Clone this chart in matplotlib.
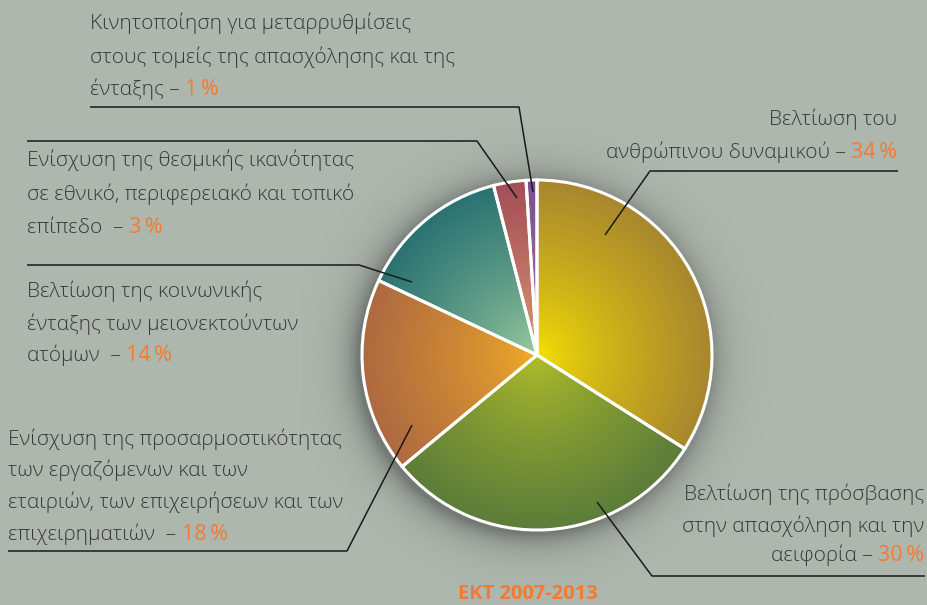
import numpy as np
import matplotlib.pyplot as plt
from matplotlib.colors import to_rgb

# ---- data ----
shares = [34, 30, 18, 14, 3, 1]
inner_colors = ['#f8e400', '#b4c028', '#f4ae26', '#a0d0a0', '#e4a474', '#b080b0']
outer_colors = ['#a8872e', '#5c7d3a', '#ae6a40', '#2a7272', '#a44e58', '#7a4f8e']

# label lines (text part, orange part)
labels = [
    (['Βελτίωση του', 'ανθρώπινου δυναμικού – '], '34\u2009%'),
    (['Βελτίωση της πρόσβασης', 'στην απασχόληση και την', 'αειφορία – '], '30\u2009%'),
    (['Ενίσχυση της προσαρμοστικότητας', 'των εργαζόμενων και των',
      'εταιριών, των επιχειρήσεων και των', 'επιχειρηματιών  – '], '18\u2009%'),
    (['Βελτίωση της κοινωνικής', 'ένταξης των μειονεκτούντων', 'ατόμων  – '], '14\u2009%'),
    (['Ενίσχυση της θεσμικής ικανότητας', 'σε εθνικό, περιφερειακό και τοπικό',
      'επίπεδο  – '], '3\u2009%'),
    (['Κινητοποίηση για μεταρρυθμίσεις', 'στους τομείς της απασχόλησης και της',
      'ένταξης – '], '1\u2009%'),
]
title = 'ΕΚΤ 2007-2013'

BG = '#aeb7ae'
TXT = '#383838'
ORANGE = '#f47a30'
FONT = 'Open Sans'

W, H = 927, 605
cx, cy, R = 537, 355, 175

fig = plt.figure(figsize=(W / 100, H / 100), dpi=100, facecolor=BG)
ax = fig.add_axes([0, 0, 1, 1])
ax.set_facecolor(BG)

# soft shadow round the pie
n = 400
gx = np.linspace(cx - R - 60, cx + R + 60, n)
gy = np.linspace(cy - R - 60, cy + R + 60, n)
XX, YY = np.meshgrid(gx, gy)
d = np.hypot(XX - cx + 4, YY - cy - 4)
alpha = np.where(d > R - 5, 0.34 * np.exp(-np.clip(d - R, 0, None) / 15.0), 0.34)
shadow = np.zeros((n, n, 4))
shadow[..., 3] = alpha
ax.imshow(shadow, extent=(gx[0], gx[-1], gy[-1], gy[0]), origin='upper', zorder=1)

wedges, _ = ax.pie(shares, center=(cx, cy), radius=R, startangle=-90, counterclock=True,
                   wedgeprops=dict(facecolor='none', edgecolor='white', linewidth=2.2))

# radial gradient inside every wedge
gx = np.linspace(cx - R, cx + R, n)
gy = np.linspace(cy - R, cy + R, n)
XX, YY = np.meshgrid(gx, gy)
t = np.clip(np.hypot(XX - cx, YY - cy) / R, 0, 1) ** 0.75
for w, ci, co in zip(wedges, inner_colors, outer_colors):
    ci, co = np.array(to_rgb(ci)), np.array(to_rgb(co))
    img = ci[None, None, :] * (1 - t[..., None]) + co[None, None, :] * t[..., None]
    im = ax.imshow(img, extent=(gx[0], gx[-1], gy[-1], gy[0]), origin='upper', zorder=2)
    im.set_clip_path(w)
    w.set_zorder(3)

ax.set_xlim(0, W)
ax.set_ylim(H, 0)
ax.set_aspect('auto')
ax.axis('off')

fs = 15
kw = dict(fontsize=fs, color=TXT, family=FONT, fontweight='light')
okw = dict(fontsize=fs + 0.5, color=ORANGE, family=FONT)


def left_block(lines, pct, x, baselines):
    for i, (s, yb) in enumerate(zip(lines, baselines)):
        t1 = ax.text(x, yb, s, ha='left', va='baseline', **kw)
        if i == len(lines) - 1:
            ax.annotate(pct, xy=(1, yb), xycoords=(t1, 'data'), ha='left', va='baseline', **okw)


def right_block(lines, pct, x, baselines):
    for i, (s, yb) in enumerate(zip(lines, baselines)):
        if i == len(lines) - 1:
            t2 = ax.text(x, yb, pct, ha='right', va='baseline', **okw)
            ax.annotate(s, xy=(0, yb), xycoords=(t2, 'data'), ha='right', va='baseline', **kw)
        else:
            ax.text(x, yb, s, ha='right', va='baseline', **kw)


right_block(*labels[0], 897, [125, 158])
right_block(*labels[1], 924, [500, 532, 561])
left_block(*labels[2], 8, [445, 476, 508, 540])
left_block(*labels[3], 27, [297, 330, 361])
left_block(*labels[4], 27, [166, 200, 233])
left_block(*labels[5], 90, [29, 63, 95])

# leader lines
lk = dict(color='#1a1a1a', lw=1.1, zorder=4, solid_capstyle='butt')
ax.plot([898, 650, 605], [171, 171, 235], **lk)
ax.plot([925, 652, 597], [576, 576, 502], **lk)
ax.plot([8, 347, 412], [551, 551, 425], **lk)
ax.plot([27, 359, 412], [265, 265, 282], **lk)
ax.plot([27, 477, 517], [141, 141, 198], **lk)
ax.plot([90, 519, 533], [107, 107, 192], **lk)

ax.text(528, 599, title, ha='center', va='baseline', fontsize=14.5, color=ORANGE,
        family=FONT, fontweight='bold')

fig.savefig('out.png', dpi=100, facecolor=BG)
